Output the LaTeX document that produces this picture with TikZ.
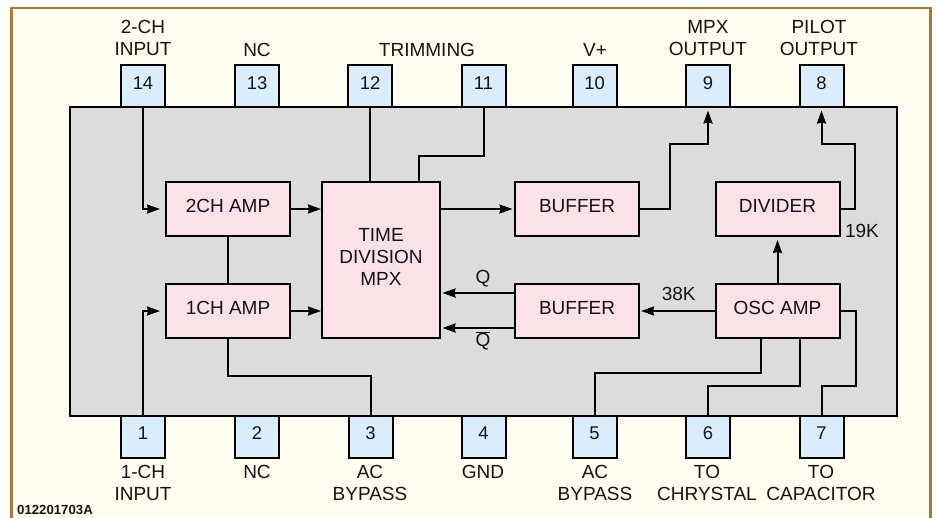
\documentclass[tikz,border=0pt]{standalone}
\usepackage{fontspec}
\setmainfont{Liberation Sans}
\usetikzlibrary{arrows.meta}
\definecolor{framecol}{HTML}{A67C3C}
\definecolor{papercol}{HTML}{FFFDF0}
\definecolor{chipcol}{HTML}{DCDCDC}
\definecolor{pincol}{HTML}{DAEDFC}
\definecolor{boxcol}{HTML}{FBE1E8}
\definecolor{inkcol}{HTML}{141414}
\tikzset{
  x=1pt,y=-1pt,
  every node/.style={text=inkcol,font=\fontsize{19}{22}\selectfont},
  chipbox/.style={draw=black,line width=2pt,fill=chipcol,inner sep=0pt,minimum width=827pt,minimum height=309pt},
  pinbase/.style={draw=black,line width=2pt,fill=pincol,inner sep=0pt,minimum width=44pt,minimum height=42pt,
     font=\fontsize{18.4}{22}\selectfont},
  pintop/.style={pinbase,text height=14pt,text depth=7pt},
  pinbot/.style={pinbase,text height=14pt,text depth=9.4pt},
  block/.style={draw=black,line width=2pt,fill=boxcol,inner sep=0pt,minimum width=124pt,minimum height=54pt,
     text height=14pt,text depth=8pt},
  tallblock/.style={draw=black,line width=2pt,fill=boxcol,inner sep=0pt,minimum width=118pt,minimum height=156pt,
     align=center,text depth=7pt},
  lab/.style={anchor=south,inner sep=0pt,text depth=0pt,align=center},
  wire/.style={line width=2pt,draw=black,line join=miter},
  arr/.style={wire,-{Stealth[length=13pt,width=9pt,inset=1pt]}},
}
\begin{document}
\begin{tikzpicture}
\useasboundingbox (0,0) rectangle (937,517);
\fill[white] (0,0) rectangle (937,517);
\draw[draw=framecol,line width=2.6pt,fill=papercol] (11.5,530) -- (11.5,8) -- (930.5,8) -- (930.5,530);
\node[chipbox] (chip) at (483.5,261.5) {};
% top pins
\node[pintop] (p14) at (143,86) {14};
\node[pintop] (p13) at (257,86) {13};
\node[pintop] (p12) at (370,86) {12};
\node[pintop] (p11) at (483.5,86) {11};
\node[pintop] (p10) at (594.5,86) {10};
\node[pintop] (p9) at (708,86) {9};
\node[pintop] (p8) at (821.5,86) {8};
% bottom pins
\node[pinbot] (p1) at (143,437) {1};
\node[pinbot] (p2) at (257,437) {2};
\node[pinbot] (p3) at (370.5,437) {3};
\node[pinbot] (p4) at (483.5,437) {4};
\node[pinbot] (p5) at (594.5,437) {5};
\node[pinbot] (p6) at (708,437) {6};
\node[pinbot] (p7) at (821.5,437) {7};
% blocks
\node[block] (amp2) at (228,209) {2CH AMP};
\node[block] (amp1) at (228,311) {1CH AMP};
\node[tallblock] (tdm) at (381,260) {TIME\\DIVISION\\MPX};
\node[block] (buf1) at (577,209) {BUFFER};
\node[block] (buf2) at (577,311) {BUFFER};
\node[block] (div) at (777.5,209) {DIVIDER};
\node[block] (osc) at (777.5,311) {OSC AMP};
% helper coordinates
\coordinate (c11) at (418.5,156);
\coordinate (c9) at (669.7,143.5);
\coordinate (c8) at (855,143.5);
\coordinate (c3) at (228,375.7);
\coordinate (o5) at (760.5,373);
\coordinate (o6) at (800,386);
\coordinate (o7) at (855.5,386);
\coordinate (qa) at (515,293);
\coordinate (qb) at (515,328);
% connectors
\draw[arr,shorten >=5pt] (p14.south) |- (amp2.west);
\draw[arr,shorten >=5pt] (p1.north) |- (amp1.west);
\draw[arr] (amp2.east) -- (amp2.east -| tdm.west);
\draw[arr] (amp1.east) -- (amp1.east -| tdm.west);
\draw[wire] (amp2.south) -- (amp1.north);
\draw[wire] (amp1.south) |- (c3) -| (p3.north);
\draw[wire] (p12.south) -- (p12.south |- tdm.north);
\draw[wire] (p11.south) |- (c11) -- (c11 |- tdm.north);
\draw[arr,shorten >=1.5pt] (tdm.east |- buf1.west) -- (buf1.west);
\draw[arr,shorten >=2.5pt] (buf1.east) -| (c9) -| (p9.south);
\draw[arr,shorten >=2.5pt] (div.east) -| (c8) -| (p8.south);
\draw[arr,shorten >=3pt] (osc.north) -- (div.south);
\draw[arr,shorten >=1.5pt] (qa) -- (qa -| tdm.east);
\draw[arr,shorten >=1.5pt] (qb) -- (qb -| tdm.east);
\draw[arr,shorten >=1pt] (osc.west) -- (buf2.east);
\draw[wire] (o5 |- osc.south) -- (o5) -| (p5.north);
\draw[wire] (o6 |- osc.south) -- (o6) -| (p6.north);
\draw[wire] (osc.east) -| (o7) -| (p7.north);
% labels
\node[lab] (l14) at (143,56) {2-CH\\INPUT};
\node[lab] (l13) at (257,57) {NC};
\node[lab] (ltrim) at (427,57) {TRIMMING};
\node[lab] (l10) at (595,57) {V+};
\node[lab] (l9) at (708,56) {MPX\\OUTPUT};
\node[lab] (l8) at (819,56) {PILOT\\OUTPUT};
\node[lab] (l1) at (143,500.7) {1-CH\\INPUT};
\node[lab] (l2) at (257,478.7) {NC};
\node[lab] (l3) at (370,500.7) {AC\\BYPASS};
\node[lab] (l4) at (483,478.7) {GND};
\node[lab] (l5) at (595,500.7) {AC\\BYPASS};
\node[lab] (l6) at (707,500.7) {TO\\CHRYSTAL};
\node[lab] (l7) at (821,500.7) {TO\\CAPACITOR};
\node[lab] (lq) at (483,284) {Q};
\node[lab] (lqb) at (483,347) {$\overline{\hbox{Q}}$};
\node[lab] (l38) at (678.7,301) {38K};
\node[lab] (l19) at (862,238) {19K};
\node[anchor=south west,inner sep=0pt,text depth=0pt,font=\fontsize{13.2}{15}\selectfont\bfseries] (code) at (17,515) {012201703A};
\end{tikzpicture}
\end{document}
